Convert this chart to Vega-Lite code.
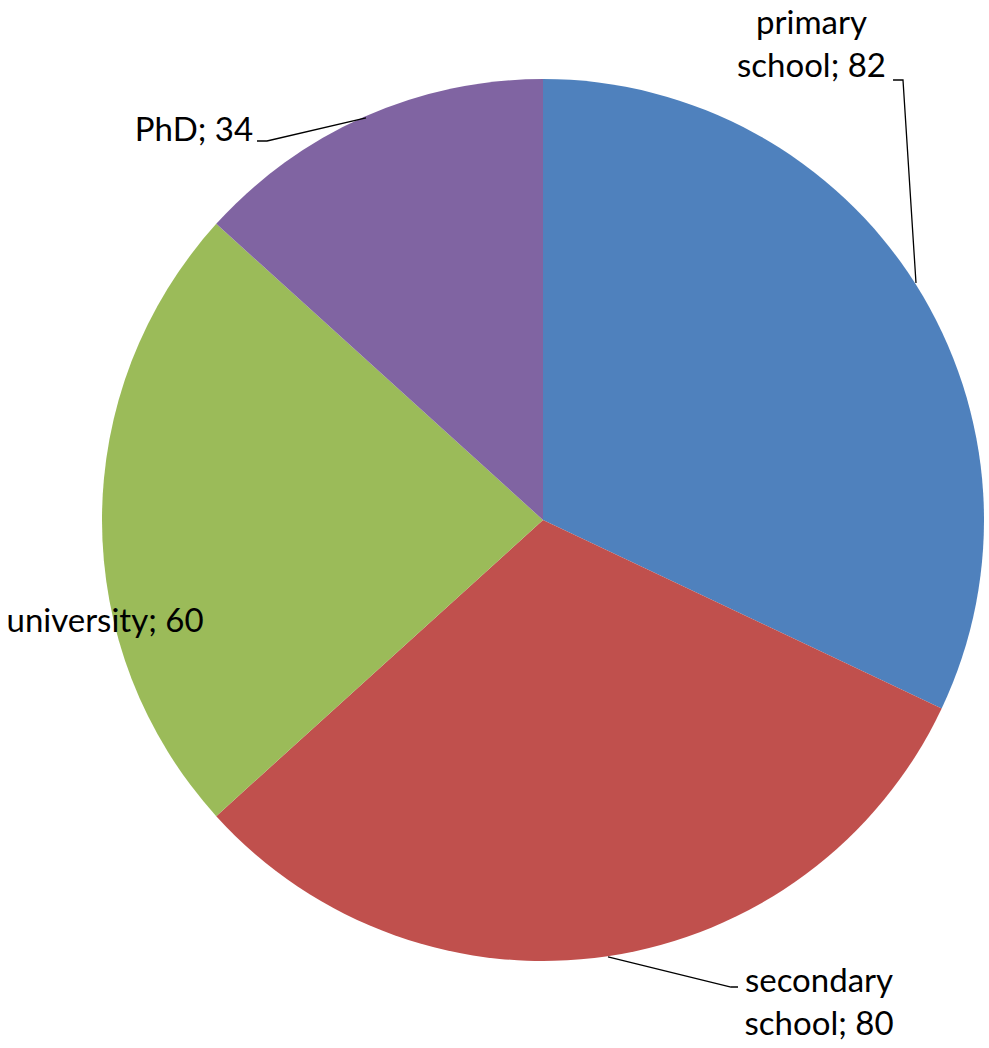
{
  "$schema": "https://vega.github.io/schema/vega-lite/v6.json",
  "width": 989,
  "height": 1048,
  "autosize": "none",
  "padding": 0,
  "background": "white",
  "config": {"view": {"stroke": null}},
  "datasets": {
    "slices": [
      {"category": "primary school", "idx": 1, "value": 82},
      {"category": "secondary school", "idx": 2, "value": 80},
      {"category": "university", "idx": 3, "value": 60},
      {"category": "PhD", "idx": 4, "value": 34}
    ],
    "labels": [
      {"category": "primary school", "label": "primary\nschool; 82", "u": 0.6088, "v": 1.161},
      {"category": "secondary school", "label": "secondary\nschool; 80", "u": 0.6259, "v": -1.0113},
      {"category": "university", "label": "university; 60", "u": -0.9932, "v": -0.195},
      {"category": "PhD", "label": "PhD; 34", "u": -0.7914, "v": 0.9184}
    ],
    "leaders": [
      {"category": "primary school", "step": 1, "u": 0.7937, "v": 0.9977},
      {"category": "primary school", "step": 2, "u": 0.8163, "v": 0.9977},
      {"category": "primary school", "step": 3, "u": 0.8458, "v": 0.5374},
      {"category": "PhD", "step": 1, "u": -0.6485, "v": 0.8594},
      {"category": "PhD", "step": 2, "u": -0.6259, "v": 0.8594},
      {"category": "PhD", "step": 3, "u": -0.4014, "v": 0.9116},
      {"category": "secondary school", "step": 1, "u": 0.1474, "v": -0.9909},
      {"category": "secondary school", "step": 2, "u": 0.4263, "v": -1.059},
      {"category": "secondary school", "step": 3, "u": 0.4422, "v": -1.059}
    ]
  },
  "layer": [
    {
      "data": {"name": "slices"},
      "mark": {"type": "arc", "outerRadius": 441, "strokeWidth": 0},
      "encoding": {
        "theta": {"field": "value", "type": "quantitative", "stack": true},
        "order": {"field": "idx", "type": "quantitative"},
        "color": {
          "field": "category",
          "type": "nominal",
          "legend": null,
          "scale": {
            "domain": ["primary school", "secondary school", "university", "PhD"],
            "range": ["#4F81BD", "#C0504D", "#9BBB59", "#8064A2"]
          }
        },
        "x": {"datum": 0, "type": "quantitative", "scale": {"domain": [-1.23129, 1.01134], "nice": false, "zero": false}, "axis": null},
        "y": {"datum": 0, "type": "quantitative", "scale": {"domain": [-1.19728, 1.17914], "nice": false, "zero": false}, "axis": null}
      }
    },
    {
      "data": {"name": "leaders"},
      "mark": {"type": "line", "color": "black", "strokeWidth": 1.3},
      "encoding": {
        "x": {"field": "u", "type": "quantitative", "axis": null},
        "y": {"field": "v", "type": "quantitative", "axis": null},
        "detail": {"field": "category", "type": "nominal"},
        "order": {"field": "step", "type": "quantitative"}
      }
    },
    {
      "data": {"name": "labels"},
      "mark": {"type": "text", "font": "Lato", "fontSize": 33, "align": "center", "baseline": "top", "lineBreak": "\n", "lineHeight": 43, "color": "black"},
      "encoding": {
        "x": {"field": "u", "type": "quantitative", "axis": null},
        "y": {"field": "v", "type": "quantitative", "axis": null},
        "text": {"field": "label", "type": "nominal"}
      }
    }
  ]
}
